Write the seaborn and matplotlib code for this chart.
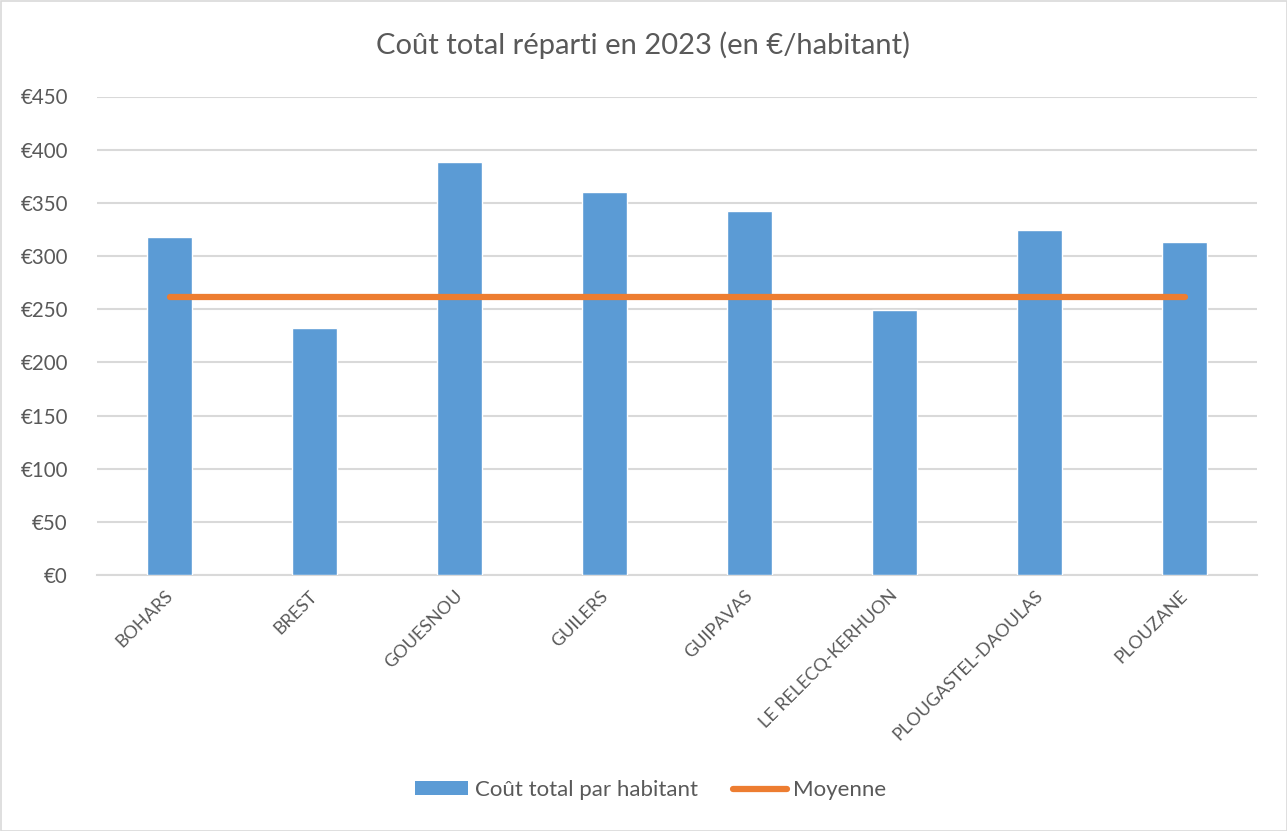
import matplotlib
matplotlib.use("Agg")
import matplotlib.pyplot as plt
import matplotlib.transforms as mtransforms
import seaborn as sns
import pandas as pd
from matplotlib.patches import Rectangle
from matplotlib.lines import Line2D

communes = ["BOHARS", "BREST", "GOUESNOU", "GUILERS", "GUIPAVAS",
            "LE RELECQ-KERHUON", "PLOUGASTEL-DAOULAS", "PLOUZANE"]
cout_par_habitant = [318, 232, 388, 360, 342, 249, 324, 313]
moyenne = [261, 261, 261, 261, 261, 261, 261, 261]
y_ticks = [0, 50, 100, 150, 200, 250, 300, 350, 400, 450]

titre = "Coût total réparti en 2023 (en €/habitant)"
label_barres = "Coût total par habitant"
label_moyenne = "Moyenne"

BLEU = "#5B9BD5"
ORANGE = "#ED7D31"
GRIS_TEXTE = "#595959"
GRIS_GRILLE = "#D9D9D9"

sns.set_style("white")
plt.rcParams["font.family"] = ["Lato", "DejaVu Sans"]

df = pd.DataFrame({"commune": communes, "cout": cout_par_habitant, "moyenne": moyenne})

fig = plt.figure(figsize=(12.87, 8.31), dpi=100)
ax = fig.add_axes([97 / 1287, 1 - 575 / 831, (1257 - 97) / 1287, (575 - 96.5) / 831])

sns.barplot(data=df, x="commune", y="cout", color=BLEU, saturation=1,
            width=0.31, ax=ax, zorder=3)
sns.lineplot(data=df, x="commune", y="moyenne", color=ORANGE, linewidth=4.5,
             ax=ax, zorder=4, solid_capstyle="round")

ax.set_ylim(0, 450)
ax.set_xlim(-0.5, len(communes) - 0.5)
ax.set_yticks(y_ticks)
ax.set_yticklabels([f"€{v}" for v in y_ticks])
ax.yaxis.grid(True, color=GRIS_GRILLE, linewidth=1.5, zorder=0)
ax.set_axisbelow(True)
for s in ["top", "left", "right"]:
    ax.spines[s].set_visible(False)
ax.spines["bottom"].set_color(GRIS_GRILLE)
ax.spines["bottom"].set_linewidth(1.5)
ax.set_xlabel("")
ax.set_ylabel("")
ax.tick_params(axis="y", length=0, pad=21, labelsize=14.8, labelcolor=GRIS_TEXTE)
ax.tick_params(axis="x", length=0, pad=9, labelsize=13, labelcolor=GRIS_TEXTE)
shift = mtransforms.ScaledTranslation(-5 / 100, 0, fig.dpi_scale_trans)
for lab in ax.get_xticklabels():
    lab.set_rotation(45)
    lab.set_ha("right")
    lab.set_rotation_mode("anchor")
    lab.set_transform(lab.get_transform() + shift)

fig.text(0.5, 1 - 45 / 831, titre, ha="center", va="center",
         fontsize=21, color=GRIS_TEXTE)

handles = [Rectangle((0, 0), 1, 1, facecolor=BLEU, edgecolor="none"),
           Line2D([0], [0], color=ORANGE, linewidth=4.5, solid_capstyle="round")]
fig.legend(handles, [label_barres, label_moyenne], loc="center",
           bbox_to_anchor=(0.5 + 7 / 1287, 1 - 790 / 831), ncol=2, frameon=False,
           fontsize=16, labelcolor=GRIS_TEXTE, handlelength=2.4,
           handleheight=0.6, handletextpad=0.3, columnspacing=1.6)

fig.patches.append(Rectangle((0.5 / 1287, 0.5 / 831), 1 - 1 / 1287, 1 - 1 / 831,
                             transform=fig.transFigure, fill=False,
                             edgecolor=GRIS_GRILLE, linewidth=1.2))

fig.savefig("out.png", dpi=100, facecolor="white")
